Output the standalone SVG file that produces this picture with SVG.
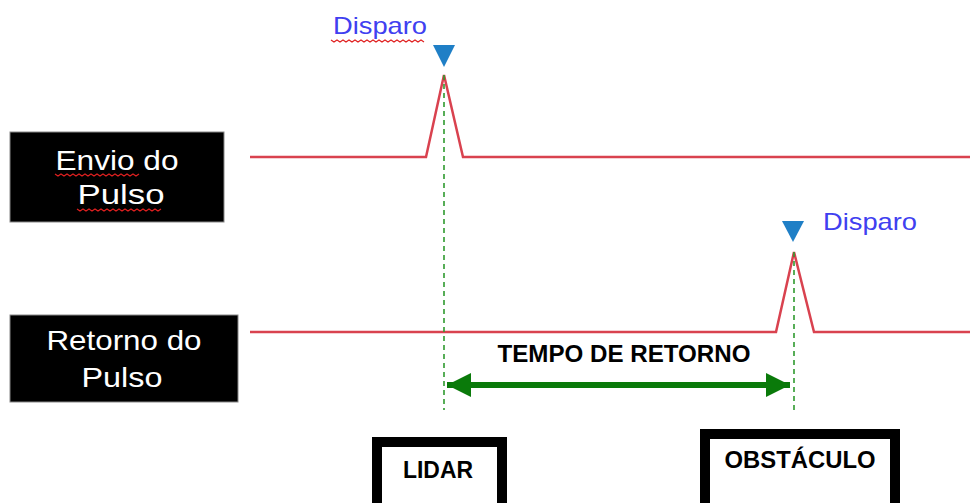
<svg xmlns="http://www.w3.org/2000/svg" width="970" height="503" viewBox="0 0 970 503">
<style>
.lab{fill:#000;stroke:#888;stroke-width:1}
.labt{fill:#fff;font-family:"Liberation Sans",Arial,sans-serif;font-size:28px;text-anchor:middle}
.sig{fill:none;stroke:#d9424f;stroke-width:2.5;stroke-linejoin:miter}
.guide{stroke:#2f9a2f;stroke-width:1.6;stroke-dasharray:5,4;fill:none}
.trig{fill:#1f7fc6}
.disp{fill:#4040f0;font-family:"Liberation Sans",Arial,sans-serif;font-size:24px}
.box{fill:#fff;stroke:#000;stroke-width:10}
.bt{fill:#000;font-family:"Liberation Sans",Arial,sans-serif;font-weight:bold;font-size:23px;text-anchor:middle}
.squig{fill:none;stroke:#e02020;stroke-width:1.2}
</style>
<defs>
<marker id="ah" viewBox="0 0 10 10" refX="10" refY="5" markerWidth="4" markerHeight="4" orient="auto-start-reverse" markerUnits="strokeWidth">
<path d="M0,0 L10,5 L0,10 z" fill="#0a7a0a"/>
</marker>
</defs>

<g id="envio-label">
<rect class="lab" x="10" y="132" width="214" height="90"/>
<text class="labt" x="117" y="170" textLength="123" lengthAdjust="spacingAndGlyphs">Envio do</text>
<text class="labt" x="121" y="204" textLength="87" lengthAdjust="spacingAndGlyphs">Pulso</text>
<path class="squig" d="M55,174 l3,2 l3,-2 l3,2 l3,-2 l3,2 l3,-2 l3,2 l3,-2 l3,2 l3,-2 l3,2 l3,-2 l3,2 l3,-2 l3,2 l3,-2 l3,2 l3,-2 l3,2 l3,-2 l3,2 l3,-2 l3,2 l3,-2 l3,2 l3,-2 l3,2 l3,-2"/>
<path class="squig" d="M77,209 l3,2 l3,-2 l3,2 l3,-2 l3,2 l3,-2 l3,2 l3,-2 l3,2 l3,-2 l3,2 l3,-2 l3,2 l3,-2 l3,2 l3,-2 l3,2 l3,-2 l3,2 l3,-2 l3,2 l3,-2 l3,2 l3,-2 l3,2 l3,-2 l3,2 l3,-2"/>
</g>

<g id="retorno-label">
<rect class="lab" x="10" y="315" width="228" height="87"/>
<text class="labt" x="124" y="350" textLength="155" lengthAdjust="spacingAndGlyphs">Retorno do</text>
<text class="labt" x="122" y="387" textLength="81" lengthAdjust="spacingAndGlyphs">Pulso</text>
</g>

<g id="signals">
<polyline class="sig" points="250,157 426,157 444,75 463,157 970,157"/>
<polyline class="sig" points="250,332 776,332 794,252 814,332 970,332"/>
</g>

<g id="disparo-top">
<polygon class="trig" points="433,45 455,45 444,67"/>
<text class="disp" x="333" y="34" textLength="94" lengthAdjust="spacingAndGlyphs">Disparo</text>
<path class="squig" d="M331,40 l3,2 l3,-2 l3,2 l3,-2 l3,2 l3,-2 l3,2 l3,-2 l3,2 l3,-2 l3,2 l3,-2 l3,2 l3,-2 l3,2 l3,-2 l3,2 l3,-2 l3,2 l3,-2 l3,2 l3,-2 l3,2 l3,-2 l3,2 l3,-2 l3,2 l3,-2 l3,2 l3,-2 l3,2"/>
</g>

<g id="disparo-bottom">
<polygon class="trig" points="782,221 804,221 793,242"/>
<text class="disp" x="823" y="230" textLength="94" lengthAdjust="spacingAndGlyphs">Disparo</text>
</g>

<g id="connectors">
<line class="guide" x1="444" y1="75" x2="444" y2="410"/>
<line class="guide" x1="794" y1="252" x2="794" y2="410"/>
<line x1="447" y1="385" x2="790" y2="385" stroke="#0a7a0a" stroke-width="6" marker-start="url(#ah)" marker-end="url(#ah)"/>
<text class="bt" x="624" y="362" textLength="253" lengthAdjust="spacingAndGlyphs">TEMPO DE RETORNO</text>
</g>

<g id="lidar">
<rect class="box" x="377" y="442" width="125" height="70"/>
<text class="bt" x="438" y="478" textLength="70" lengthAdjust="spacingAndGlyphs">LIDAR</text>
</g>

<g id="obstaculo">
<rect class="box" x="705" y="434" width="190" height="80"/>
<text class="bt" x="800" y="468" textLength="151" lengthAdjust="spacingAndGlyphs">OBSTÁCULO</text>
</g>
</svg>
